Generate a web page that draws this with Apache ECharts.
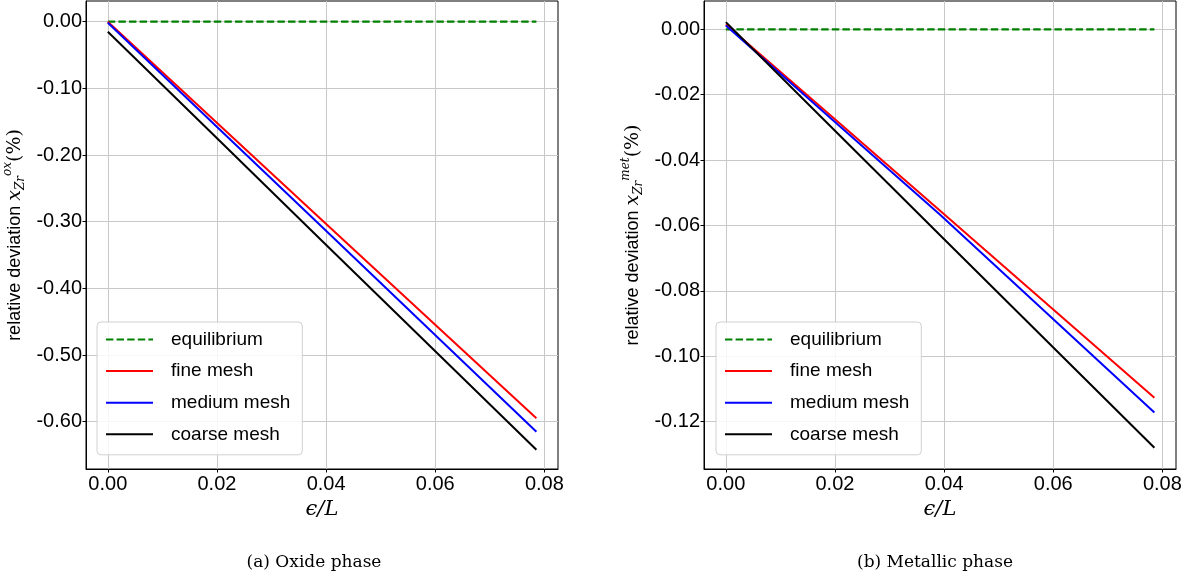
<!DOCTYPE html>
<html>
<head>
<meta charset="utf-8">
<script src="https://cdn.jsdelivr.net/npm/echarts@6/dist/echarts.min.js"></script>
<style>html,body{margin:0;padding:0;background:#fff;}#c{width:1189px;height:581px;}</style>
</head>
<body>
<div id="c"></div>
<script>
// ---- data ----
const xValues = [0, 0.019635, 0.03927, 0.07854];
const seriesNames = ['equilibrium', 'fine mesh', 'medium mesh', 'coarse mesh'];
// (a) oxide phase
const eqOx = [0, 0, 0, 0];
const fineOx = [0, -0.149, -0.298, -0.595];
const mediumOx = [-0.0015, -0.155, -0.308, -0.615];
const coarseOx = [-0.015, -0.172, -0.329, -0.642];
// (b) metallic phase
const eqMet = [0, 0, 0, 0];
const fineMet = [0.0015, -0.027, -0.0555, -0.1127];
const mediumMet = [0.0012, -0.0278, -0.0567, -0.1172];
const coarseMet = [0.0022, -0.0304, -0.063, -0.128];
// ticks
const xTicks = [0, 0.02, 0.04, 0.06, 0.08];
const yTicksOx = [0, -0.1, -0.2, -0.3, -0.4, -0.5, -0.6];
const yTicksMet = [0, -0.02, -0.04, -0.06, -0.08, -0.10, -0.12];
const captions = ['(a) Oxide phase', '(b) Metallic phase'];

const colors = ['#008000', '#ff0000', '#0000ff', '#000000'];
const SANS = 'Liberation Sans';
const SERIF = 'DejaVu Serif';

function pairs(ys) { return xValues.map((x, i) => [x, ys[i]]); }

function mkX(idx) {
  return {
    type: 'value', gridIndex: idx, min: -0.004, max: 0.0825,
    name: 'ϵ/L', nameLocation: 'middle', nameGap: 25,
    nameTextStyle: { fontFamily: SERIF, fontStyle: 'italic', fontSize: 21, color: '#000' },
    axisLine: { show: true, onZero: false, lineStyle: { color: '#000', width: 1 } },
    axisTick: { show: true, length: 3.5, customValues: xTicks, lineStyle: { color: '#000' } },
    axisLabel: { customValues: xTicks, formatter: v => v.toFixed(2), fontFamily: SANS, fontSize: 20, color: '#000', margin: 5 },
    splitLine: { show: true, lineStyle: { color: '#c8c8c8', width: 1 } }
  };
}
function mkY(idx, min, max, ticks, sup) {
  return {
    type: 'value', gridIndex: idx, min: min, max: max,
    name: '{n|relative deviation }{x|x}{sub|Zr}{sup|' + sup + '}{p|(%)}',
    nameLocation: 'middle', nameGap: 58, nameRotate: 90,
    nameTextStyle: {
      color: '#000',
      rich: {
        n: { fontFamily: SANS, fontSize: 18, color: '#000' },
        x: { fontFamily: SERIF, fontStyle: 'italic', fontSize: 19, color: '#000' },
        sub: { fontFamily: SERIF, fontStyle: 'italic', fontSize: 12, color: '#000', padding: [12, 0, 0, 0] },
        sup: { fontFamily: SERIF, fontStyle: 'italic', fontSize: 12, color: '#000', padding: [0, 0, 14, 0] },
        p: { fontFamily: SERIF, fontSize: 19, color: '#000' }
      }
    },
    axisLine: { show: true, onZero: false, lineStyle: { color: '#000', width: 1 } },
    axisTick: { show: true, length: 3.5, customValues: ticks, lineStyle: { color: '#000' } },
    axisLabel: { customValues: ticks, formatter: v => v.toFixed(2), fontFamily: SANS, fontSize: 20, color: '#000', margin: 4 },
    splitLine: { show: true, lineStyle: { color: '#c8c8c8', width: 1 } }
  };
}
function mkSeries(idx, data) {
  return data.map((ys, i) => ({
    type: 'line', name: seriesNames[i], xAxisIndex: idx, yAxisIndex: idx,
    data: pairs(ys), symbol: 'none', showSymbol: false, animation: false,
    color: colors[i],
    lineStyle: { color: colors[i], width: i === 0 ? 2.2 : 2, type: i === 0 ? [7.4, 3.2] : 'solid' },
    z: 3 + i
  }));
}
function mkLegend(left) {
  return {
    orient: 'vertical', left: left, top: 322,
    data: seriesNames,
    itemStyle: { opacity: 0 },
    lineStyle: { width: 2 },
    backgroundColor: 'rgba(255,255,255,0.85)', borderColor: '#d0d0d0', borderWidth: 1, borderRadius: 4,
    padding: [8, 12, 11, 8],
    itemWidth: 47, itemHeight: 20, itemGap: 12.6,
    textStyle: { fontFamily: SANS, fontSize: 19, color: '#000', padding: [0, 0, 0, 13] },
    selectedMode: false
  };
}

const chart = echarts.init(document.getElementById('c'), null, { renderer: 'canvas' });
chart.setOption({
  animation: false,
  backgroundColor: '#fff',
  grid: [
    { left: 86, top: 1, width: 472, height: 468, show: true, borderColor: '#000', borderWidth: 1 },
    { left: 704, top: 1, width: 472, height: 468, show: true, borderColor: '#000', borderWidth: 1 }
  ],
  xAxis: [mkX(0), mkX(1)],
  yAxis: [
    mkY(0, -0.671, 0.031, yTicksOx, 'ox'),
    mkY(1, -0.1345, 0.00866, yTicksMet, 'met')
  ],
  legend: [mkLegend(97), mkLegend(716)],
  series: [
    ...mkSeries(0, [eqOx, fineOx, mediumOx, coarseOx]),
    ...mkSeries(1, [eqMet, fineMet, mediumMet, coarseMet])
  ],
  graphic: [
    { type: 'text', x: 314, y: 563, style: { text: captions[0], fontFamily: SERIF, fontSize: 17, fill: '#000', align: 'center', verticalAlign: 'middle' } },
    { type: 'text', x: 935, y: 563, style: { text: captions[1], fontFamily: SERIF, fontSize: 17, fill: '#000', align: 'center', verticalAlign: 'middle' } }
  ]
});
</script>
</body>
</html>
